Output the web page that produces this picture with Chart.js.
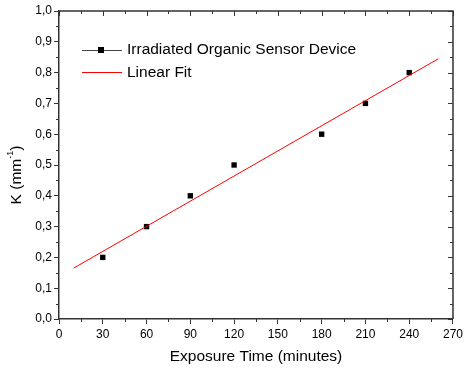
<!DOCTYPE html>
<html>
<head>
<meta charset="utf-8">
<script src="https://cdn.jsdelivr.net/npm/chart.js@4.4.1/dist/chart.umd.min.js"></script>
<style>
  html, body { margin: 0; padding: 0; background: #fff; }
  #wrap { width: 466px; height: 370px; }
</style>
</head>
<body>
<div id="wrap"><canvas id="kChart" width="466" height="370"></canvas></div>
<script>
// measured data
const exposureTimes = [30, 60, 90, 120, 180, 210, 240];
const kValues = [0.20, 0.30, 0.40, 0.50, 0.60, 0.70, 0.80];

// linear fit line, endpoints
const fitTimes = [10, 260];
const fitValues = [0.165, 0.845];

const seriesLabels = ['Irradiated Organic Sensor Device', 'Linear Fit'];
const xTitle = 'Exposure Time (minutes)';

const FONT = "'Liberation Sans', Arial, sans-serif";
const AXIS_COLOR = '#333';

function fmtComma(v) {
    return v.toFixed(1).replace('.', ',');
}

// frame, inward ticks on top/right, minor ticks, titles and legend
const decorPlugin = {
    id: 'decor',
    afterDraw(chart) {
        const ctx = chart.ctx;
        const a = chart.chartArea;
        const xs = chart.scales.x, ys = chart.scales.y;
        ctx.save();
        ctx.strokeStyle = AXIS_COLOR;
        ctx.lineWidth = 1.5;
        ctx.beginPath();
        ctx.moveTo(a.left, a.top);
        ctx.lineTo(a.right, a.top);
        ctx.lineTo(a.right, a.bottom);
        ctx.stroke();

        ctx.lineWidth = 1;
        ctx.beginPath();
        for (let v = 0; v <= 270; v += 15) {
            const px = Math.round(xs.getPixelForValue(v)) + 0.5;
            const major = v % 30 === 0;
            const len = major ? 5 : 3;
            ctx.moveTo(px, a.top);
            ctx.lineTo(px, a.top + len);
            if (!major) {
                ctx.moveTo(px, a.bottom);
                ctx.lineTo(px, a.bottom + len);
            }
        }
        for (let i = 0; i <= 20; i++) {
            const v = i * 0.05;
            const py = Math.round(ys.getPixelForValue(v)) + 0.5;
            const major = i % 2 === 0;
            const len = major ? 5 : 3;
            ctx.moveTo(a.right, py);
            ctx.lineTo(a.right - len, py);
            if (!major) {
                ctx.moveTo(a.left, py);
                ctx.lineTo(a.left - len, py);
            }
        }
        ctx.stroke();

        // axis titles
        ctx.fillStyle = '#000';
        ctx.font = '15.5px ' + FONT;
        ctx.textAlign = 'center';
        ctx.textBaseline = 'middle';
        ctx.fillText(xTitle, (a.left + a.right) / 2, 357);

        ctx.save();
        ctx.translate(17, 175);
        ctx.rotate(-Math.PI / 2);
        ctx.textAlign = 'left';
        const main = 'K (mm';
        ctx.font = '15.5px ' + FONT;
        const w1 = ctx.measureText(main).width;
        ctx.font = '9px ' + FONT;
        const w2 = ctx.measureText('-1').width;
        ctx.font = '15.5px ' + FONT;
        const w3 = ctx.measureText(')').width;
        let x0 = -(w1 + w2 + w3) / 2;
        ctx.fillText(main, x0, 0);
        ctx.font = '9px ' + FONT;
        ctx.fillText('-1', x0 + w1, -6);
        ctx.font = '15.5px ' + FONT;
        ctx.fillText(')', x0 + w1 + w2, 0);
        ctx.restore();

        // legend
        ctx.font = '15.5px ' + FONT;
        ctx.textAlign = 'left';
        ctx.textBaseline = 'middle';
        ctx.lineWidth = 1;
        ctx.strokeStyle = '#444';
        ctx.beginPath();
        ctx.moveTo(82, 50.5);
        ctx.lineTo(122, 50.5);
        ctx.stroke();
        ctx.fillStyle = '#000';
        ctx.fillRect(98, 47, 6, 6);
        ctx.fillText(seriesLabels[0], 127, 50);

        ctx.strokeStyle = '#ff0000';
        ctx.beginPath();
        ctx.moveTo(82, 72.5);
        ctx.lineTo(122, 72.5);
        ctx.stroke();
        ctx.fillStyle = '#000';
        ctx.fillText(seriesLabels[1], 127, 73);
        ctx.restore();
    }
};

new Chart(document.getElementById('kChart'), {
    type: 'scatter',
    data: {
        datasets: [
            {
                label: seriesLabels[1],
                data: fitTimes.map((t, i) => ({ x: t, y: fitValues[i] })),
                showLine: true,
                borderColor: '#ff0000',
                borderWidth: 1,
                pointRadius: 0,
                fill: false
            },
            {
                label: seriesLabels[0],
                data: exposureTimes.map((t, i) => ({ x: t, y: kValues[i] })),
                showLine: false,
                pointStyle: 'rect',
                pointRadius: 3.8,
                backgroundColor: '#000',
                borderColor: '#000',
                borderWidth: 0
            }
        ]
    },
    options: {
        responsive: false,
        animation: false,
        layout: { padding: { top: 11, right: 8, left: 0, bottom: 0 } },
        plugins: {
            legend: { display: false },
            tooltip: { enabled: false }
        },
        scales: {
            x: {
                type: 'linear',
                min: 0,
                max: 270,
                afterFit: s => { s.height = 51; },
                border: { display: true, color: AXIS_COLOR, width: 1.5 },
                grid: { drawOnChartArea: false, drawTicks: true, tickLength: 5, color: AXIS_COLOR },
                ticks: {
                    stepSize: 30,
                    color: '#000',
                    padding: 3,
                    maxRotation: 0,
                    font: { family: FONT, size: 12 }
                }
            },
            y: {
                type: 'linear',
                min: 0,
                max: 1,
                afterFit: s => { s.width = 59; },
                border: { display: true, color: AXIS_COLOR, width: 1.5 },
                grid: { drawOnChartArea: false, drawTicks: true, tickLength: 5, color: AXIS_COLOR },
                ticks: {
                    stepSize: 0.1,
                    color: '#000',
                    padding: 2,
                    font: { family: FONT, size: 12 },
                    callback: v => fmtComma(v)
                }
            }
        }
    },
    plugins: [decorPlugin]
});
</script>
</body>
</html>
